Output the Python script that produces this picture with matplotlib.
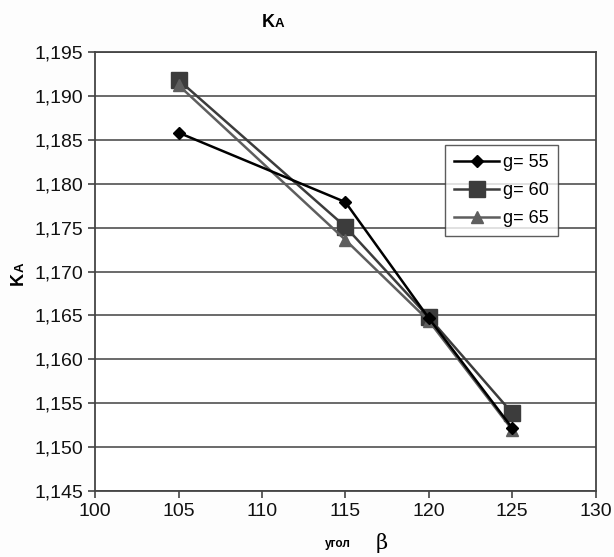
import numpy as np
import matplotlib.pyplot as plt

plt.rcParams['font.family'] = ['Liberation Sans', 'DejaVu Sans']

# data
beta = [105, 115, 120, 125]
g55 = [1.1858, 1.1779, 1.1647, 1.1522]
g60 = [1.1918, 1.1751, 1.1648, 1.1539]
g65 = [1.1912, 1.1736, 1.1644, 1.1520]
labels = ['g= 55', 'g= 60', 'g= 65']
yticks = np.arange(1.145, 1.1951, 0.005)
xticks = [100, 105, 110, 115, 120, 125, 130]

fig = plt.figure(figsize=(6.14, 5.57), dpi=100)
fig.patch.set_facecolor('#fdfdfd')
ax = fig.add_axes([0.155, 0.118, 0.815, 0.789])
ax.set_facecolor('white')

ax.plot(beta, g55, color='black', lw=1.8, marker='D', ms=6, label=labels[0], zorder=4)
ax.plot(beta, g60, color='#3c3c3c', lw=1.8, marker='s', ms=11, label=labels[1], zorder=3)
ax.plot(beta, g65, color='#5e5e5e', lw=1.8, marker='^', ms=9, label=labels[2], zorder=3)

ax.set_xlim(100, 130)
ax.set_ylim(1.145, 1.195)
ax.set_xticks(xticks)
ax.set_yticks(yticks)
ax.set_yticklabels([f'{v:.3f}'.replace('.', ',') for v in yticks])
ax.tick_params(labelsize=14, color='#444', labelcolor='#111', length=5, width=1.2)
ax.yaxis.grid(True, color='#505050', lw=1.2)
ax.set_axisbelow(True)
for s in ax.spines.values():
    s.set_color('#444')
    s.set_linewidth(1.3)

leg = ax.legend(loc='upper left', bbox_to_anchor=(0.699, 0.787), fontsize=13,
                frameon=True, fancybox=False, edgecolor='#333', handlelength=2.5,
                borderpad=0.5, labelspacing=0.6, handletextpad=0.2,
                borderaxespad=0)
leg.get_frame().set_linewidth(1.0)

# title K_A
fig.text(0.448, 0.952, 'K', ha='right', va='baseline', fontsize=13, fontweight='bold')
fig.text(0.448, 0.952, 'A', ha='left', va='baseline', fontsize=9.5, fontweight='bold')
# y label K_A
fig.text(0.044, 0.512, 'K', ha='right', va='top', rotation=90, fontsize=13, fontweight='bold')
fig.text(0.044, 0.512, 'A', ha='right', va='bottom', rotation=90, fontsize=9.5, fontweight='bold')
# x label
fig.text(0.572, 0.012, 'угол', ha='right', va='bottom', fontsize=8.5, fontweight='bold')
fig.text(0.612, 0.008, 'β', ha='left', va='bottom', fontsize=15, family='DejaVu Serif')

fig.savefig('out.png', dpi=100)
